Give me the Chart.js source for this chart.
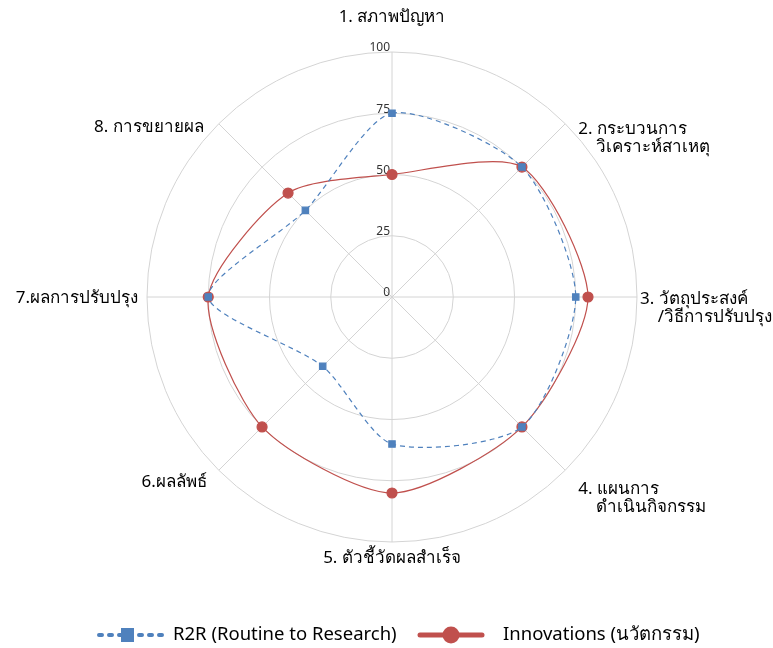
<!DOCTYPE html>
<html>
<head>
<meta charset="utf-8">
<script src="https://cdn.jsdelivr.net/npm/chart.js@4/dist/chart.umd.min.js"></script>
<style>
  html, body { margin: 0; padding: 0; background: #fff; }
  #wrap { width: 773px; height: 648px; }
</style>
</head>
<body>
<div id="wrap"><canvas id="radarChart"></canvas></div>
<script>
const categories = [
  '1. สภาพปัญหา',
  ['2. กระบวนการ', '    วิเคราะห์สาเหตุ'],
  ['3. วัตถุประสงค์', '    /วิธีการปรับปรุง'],
  ['4. แผนการ', '    ดำเนินกิจกรรม'],
  '5. ตัวชี้วัดผลสำเร็จ',
  '6.ผลลัพธ์',
  '7.ผลการปรับปรุง',
  '8. การขยายผล'
];
const r2rValues = [75, 75, 75, 75, 60, 40, 75, 50];
const innovationValues = [50, 75, 80, 75, 80, 75, 75, 60];
const tickValues = [0, 25, 50, 75, 100];
const seriesNames = ['R2R (Routine to Research)', 'Innovations (นวัตกรรม)'];

const fontFamily = '"Noto Sans", "DejaVu Sans", sans-serif';
const blue = '#4f81bd';
const red = '#c0504d';

// where each category label sits, relative to the end of its spoke
const labelShift = [
  [0, -35], [13, 14], [3, 11], [13, 28],
  [0, 16], [-12, 12], [-9, 1], [-15, 3]
];

// tick labels sit left of the vertical axis, 0 included
const tickPlugin = {
  id: 'tickText',
  beforeDatasetsDraw(chart) {
    const scale = chart.scales.r;
    const ctx = chart.ctx;
    ctx.save();
    ctx.font = '12px ' + fontFamily;
    ctx.fillStyle = '#333';
    ctx.textAlign = 'right';
    ctx.textBaseline = 'bottom';
    tickValues.forEach(v => {
      const d = scale.getDistanceFromCenterForValue(v);
      ctx.fillText(String(v), scale.xCenter - 2, scale.yCenter - d + 2);
    });
    ctx.restore();
  }
};

// category labels drawn by hand so they land where the original has them
const categoryPlugin = {
  id: 'categoryText',
  afterDraw(chart) {
    const scale = chart.scales.r;
    const ctx = chart.ctx;
    ctx.save();
    ctx.font = '17px ' + fontFamily;
    ctx.fillStyle = '#000';
    ctx.textBaseline = 'middle';
    categories.forEach((label, i) => {
      const p = scale.getPointPosition(i, scale.drawingArea);
      const lines = Array.isArray(label) ? label : [label];
      const dx = p.x - scale.xCenter;
      ctx.textAlign = Math.abs(dx) < 1 ? 'center' : (dx > 0 ? 'left' : 'right');
      const lh = 18;
      const x = p.x + labelShift[i][0];
      const y0 = p.y + labelShift[i][1] - (lines.length - 1) * lh / 2;
      lines.forEach((t, j) => ctx.fillText(t, x, y0 + j * lh));
    });
    ctx.restore();
  }
};

// legend with line + marker like the original
const legendPlugin = {
  id: 'lineLegend',
  afterDraw(chart) {
    const ctx = chart.ctx;
    const y = 635;
    ctx.save();
    ctx.font = '18.5px ' + fontFamily;
    ctx.textBaseline = 'middle';
    ctx.textAlign = 'left';

    // R2R
    ctx.strokeStyle = blue;
    ctx.lineWidth = 4;
    ctx.lineCap = 'round';
    ctx.setLineDash([3, 7]);
    ctx.beginPath();
    ctx.moveTo(99, y);
    ctx.lineTo(162, y);
    ctx.stroke();
    ctx.setLineDash([]);
    ctx.fillStyle = blue;
    ctx.fillRect(121, y - 7, 13, 14);
    ctx.fillStyle = '#000';
    ctx.fillText(seriesNames[0], 173, y);

    // Innovations
    ctx.strokeStyle = red;
    ctx.lineWidth = 5;
    ctx.lineCap = 'round';
    ctx.beginPath();
    ctx.moveTo(420, y);
    ctx.lineTo(482, y);
    ctx.stroke();
    ctx.fillStyle = red;
    ctx.beginPath();
    ctx.arc(451, y, 8.5, 0, Math.PI * 2);
    ctx.fill();
    ctx.fillStyle = '#000';
    ctx.fillText(seriesNames[1], 503, y);
    ctx.restore();
  }
};

new Chart(document.getElementById('radarChart'), {
  type: 'radar',
  data: {
    labels: categories,
    datasets: [
      {
        label: seriesNames[0],
        data: r2rValues,
        borderColor: blue,
        backgroundColor: 'transparent',
        borderWidth: 1.2,
        borderDash: [5, 4],
        tension: 0.25,
        fill: false,
        pointStyle: 'rect',
        pointRadius: 4.5,
        pointBackgroundColor: blue,
        pointBorderColor: blue
      },
      {
        label: seriesNames[1],
        data: innovationValues,
        borderColor: red,
        backgroundColor: 'transparent',
        borderWidth: 1.2,
        tension: 0.25,
        fill: false,
        pointStyle: 'circle',
        pointRadius: 5,
        pointBackgroundColor: red,
        pointBorderColor: red
      }
    ]
  },
  options: {
    responsive: true,
    maintainAspectRatio: false,
    animation: false,
    layout: { padding: { top: 52, bottom: 106, left: 11, right: 0 } },
    plugins: {
      legend: { display: false },
      tooltip: { enabled: false }
    },
    scales: {
      r: {
        min: 0,
        max: 100,
        ticks: { display: false, stepSize: 25 },
        grid: { circular: true, color: '#d4d4d4', lineWidth: 1 },
        angleLines: { color: '#d4d4d4', lineWidth: 1 },
        pointLabels: { display: false }
      }
    }
  },
  plugins: [tickPlugin, categoryPlugin, legendPlugin]
});
</script>
</body>
</html>
